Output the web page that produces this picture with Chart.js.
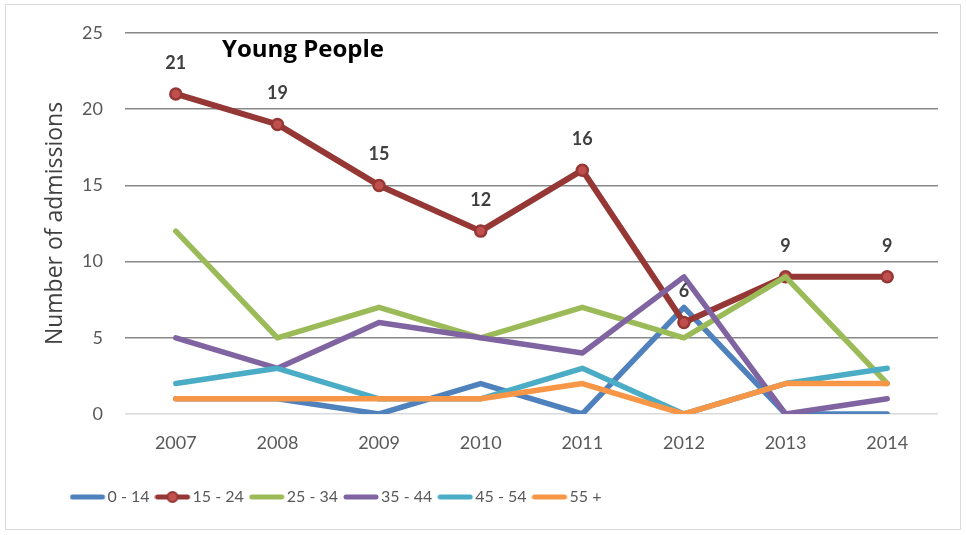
<!DOCTYPE html>
<html>
<head>
<meta charset="utf-8">
<script src="https://cdn.jsdelivr.net/npm/chart.js@4.4.1/dist/chart.umd.min.js"></script>
<style>
  html, body { margin: 0; padding: 0; background: #fff; }
  #wrap { position: relative; width: 966px; height: 535px; }
  #frame { position: absolute; left: 5px; top: 4px; width: 956px; height: 526px; border: 1px solid #d9d9d9; box-sizing: border-box; }
  canvas { position: absolute; left: 0; top: 0; }
</style>
</head>
<body>
<div id="wrap">
  <div id="frame"></div>
  <canvas id="chart" width="966" height="535"></canvas>
</div>
<script>
// -------- Datos --------
const years = ["2007", "2008", "2009", "2010", "2011", "2012", "2013", "2014"];
const age0_14  = [1, 1, 0, 2, 0, 7, 0, 0];
const age15_24 = [21, 19, 15, 12, 16, 6, 9, 9];
const age25_34 = [12, 5, 7, 5, 7, 5, 9, 2];
const age35_44 = [5, 3, 6, 5, 4, 9, 0, 1];
const age45_54 = [2, 3, 1, 1, 3, 0, 2, 3];
const age55up  = [1, 1, 1, 1, 2, 0, 2, 2];
const seriesNames = ["0 - 14", "15 - 24", "25 - 34", "35 - 44", "45 - 54", "55 +"];
const yTicks = [0, 5, 10, 15, 20, 25];

const COLORS = ["#4f81bd", "#953735", "#9bbb59", "#8064a2", "#4bacc6", "#f79646"];
const FONT = "Lato, 'Open Sans', sans-serif";

// Muestra de leyenda: línea (y marcador para 15-24)
function legendSwatch(color, withMarker) {
  const c = document.createElement("canvas");
  c.width = 40; c.height = 14;
  const g = c.getContext("2d");
  g.strokeStyle = color; g.lineWidth = 5; g.lineCap = "round";
  g.beginPath(); g.moveTo(3, 7); g.lineTo(33, 7); g.stroke();
  if (withMarker) {
    g.beginPath(); g.arc(18, 7, 5, 0, Math.PI * 2);
    g.fillStyle = "#c0504d"; g.fill();
    g.lineWidth = 2; g.strokeStyle = color; g.stroke();
  }
  return c;
}

const allData = [age0_14, age15_24, age25_34, age35_44, age45_54, age55up];
const datasets = allData.map((data, i) => ({
  label: seriesNames[i],
  data,
  borderColor: COLORS[i],
  backgroundColor: COLORS[i],
  borderWidth: i === 1 ? 6 : 5.5,
  borderCapStyle: "round",
  borderJoinStyle: "round",
  tension: 0,
  pointRadius: i === 1 ? 5.5 : 0,
  pointHoverRadius: i === 1 ? 5.5 : 0,
  pointBackgroundColor: "#c0504d",
  pointBorderColor: "#953735",
  pointBorderWidth: 2.5,
  order: allData.length - i   // las series posteriores se dibujan encima
}));

// Título dentro del área del gráfico
const titlePlugin = {
  id: "innerTitle",
  afterDraw(chart) {
    const { ctx, chartArea } = chart;
    ctx.save();
    ctx.font = "bold 24px 'Open Sans', sans-serif";
    ctx.fillStyle = "#000";
    ctx.textBaseline = "middle";
    ctx.textAlign = "left";
    ctx.fillText("Young People", chartArea.left + 97, chartArea.top + 17);
    ctx.restore();
  }
};

// Etiquetas de valores para 15-24
const valueLabels = {
  id: "valueLabels",
  afterDatasetsDraw(chart) {
    const { ctx } = chart;
    const meta = chart.getDatasetMeta(1);
    const data = chart.data.datasets[1].data;
    ctx.save();
    ctx.font = "bold 18px " + FONT;
    ctx.fillStyle = "#404040";
    ctx.textAlign = "center";
    ctx.textBaseline = "middle";
    meta.data.forEach((p, i) => ctx.fillText(String(data[i]), p.x, p.y - 31));
    ctx.restore();
  }
};

// La leyenda del original no está centrada: arranca a la izquierda
const legendShift = {
  id: "legendShift",
  afterLayout(chart) {
    if (chart.legend) chart.legend.left = 64.5;
  }
};

new Chart(document.getElementById("chart").getContext("2d"), {
  type: "line",
  data: { labels: years, datasets },
  options: {
    responsive: false,
    animation: false,
    events: [],
    layout: { padding: { left: 42, right: 28, top: 33, bottom: 20 } },
    plugins: {
      tooltip: { enabled: false },
      legend: {
        position: "bottom",
        align: "start",
        labels: {
          usePointStyle: true,
          pointStyleWidth: 20,
          padding: 15,
          color: "#595959",
          font: { family: FONT, size: 16 },
          sort: (a, b) => a.datasetIndex - b.datasetIndex,
          generateLabels(chart) {
            return chart.data.datasets.map((ds, i) => ({
              text: ds.label,
              datasetIndex: i,
              pointStyle: legendSwatch(COLORS[i], i === 1),
              fontColor: "#595959",
              lineWidth: 0,
              strokeStyle: "transparent",
              fillStyle: "transparent",
              hidden: false
            }));
          }
        }
      }
    },
    scales: {
      x: {
        offset: true,
        afterFit: s => { s.height = 60; },
        grid: { display: false, drawTicks: false },
        border: { display: false },
        ticks: { color: "#595959", padding: 18, font: { family: FONT, size: 18 } }
      },
      y: {
        min: 0, max: 25,
        afterFit: s => { s.width = 83; },
        afterBuildTicks: s => { s.ticks = yTicks.map(v => ({ value: v })); },
        grid: {
          drawTicks: false,
          lineWidth: 1.5,
          color: c => (c.tick && c.tick.value === 0) ? "#d9d9d9" : "#888888"
        },
        border: { display: false },
        ticks: { color: "#595959", padding: 22, font: { family: FONT, size: 18 } },
        title: {
          display: true,
          text: "Number of admissions",
          color: "#404040",
          font: { family: "'Open Sans', sans-serif", size: 23 },
          padding: { top: 0, bottom: 0 }
        }
      }
    }
  },
  plugins: [titlePlugin, valueLabels, legendShift]
});
</script>
</body>
</html>
